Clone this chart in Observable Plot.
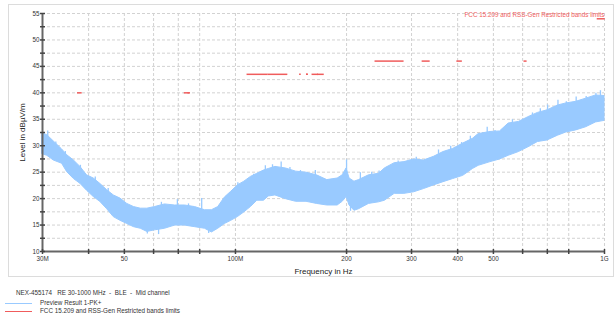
<!DOCTYPE html>
<html><head><meta charset="utf-8">
<script src="https://cdn.jsdelivr.net/npm/d3@7"></script>
<script src="https://cdn.jsdelivr.net/npm/@observablehq/plot@0.6"></script>
<style>
body{margin:0;background:#fff;font-family:"Liberation Sans",Arial,sans-serif;}
#wrap{position:relative;width:616px;height:322px;overflow:hidden;background:#fff;}
#chart{position:absolute;left:0;top:0;}
#frame{position:absolute;left:8px;top:4px;width:604px;height:271px;border:1px solid #dcdcdc;pointer-events:none;}
.cap{position:absolute;font-size:6.3px;color:#333;white-space:pre;line-height:8px;}
.sw{position:absolute;left:5px;width:27px;height:1px;}
</style></head><body>
<div id="wrap">
<div id="chart"></div>
<div id="frame"></div>
<div class="cap" id="cap0" style="left:16px;top:289px"></div>
<div class="sw" id="sw1" style="top:303px"></div>
<div class="cap" id="cap1" style="left:40px;top:299px"></div>
<div class="sw" id="sw2" style="top:311px"></div>
<div class="cap" id="cap2" style="left:40px;top:307px"></div>
</div>
<script>
// ---------- data ----------
const captionText = "NEX-455174   RE 30-1000 MHz  -  BLE  -  Mid channel";
const seriesNames = ["Preview Result 1-PK+", "FCC 15.209 and RSS-Gen Restricted bands limits"];
const xTitle = "Frequency in Hz";
const yTitle = "Level in dBµV/m";

// Preview Result 1-PK+ : envelope of the noisy trace (MHz, dBµV/m)
const specFreq = [30, 30.9, 32.2, 33.9, 35.0, 36.5, 38.0, 39.6, 41.3, 43.0, 44.9, 46.8, 48.8, 50.9, 53.1, 55.4, 57.7, 60.5, 64.4, 68.6, 73.0, 77.7, 82.7, 86.3, 89.8, 93.6, 97.4, 101.5, 105.7, 110.1, 114.6, 119.4, 123.1, 128.3, 136.9, 146.0, 155.8, 166.2, 177.3, 189.2, 195.2, 200, 203.8, 210.1, 216.2, 230, 245, 254, 270, 287, 305, 324, 345, 366, 389, 414, 440, 456, 491, 521, 550, 586, 622, 660, 701, 748, 788, 838, 892, 948, 1000];
const specHigh = [32.3, 32.0, 30.8, 29.3, 28.2, 27.2, 26.0, 24.4, 23.8, 22.8, 21.6, 20.6, 20.0, 19.0, 18.4, 18.1, 18.1, 18.4, 18.9, 18.7, 18.7, 18.4, 17.8, 17.8, 18.4, 20.2, 21.3, 22.5, 23.2, 24.1, 24.7, 25.3, 25.6, 26.0, 25.7, 25.1, 24.9, 24.4, 23.5, 23.8, 24.4, 25.7, 23.8, 23.2, 23.5, 24.4, 24.7, 25.7, 26.7, 26.9, 27.4, 27.2, 27.9, 28.8, 29.4, 30.4, 31.3, 32.2, 32.6, 32.7, 34.2, 34.5, 35.4, 36.2, 36.7, 37.6, 38.0, 38.3, 38.9, 39.5, 39.4];
const specLow = [28.4, 28.1, 27.2, 26.6, 25.0, 23.7, 22.8, 21.5, 20.3, 19.4, 18.0, 16.5, 15.8, 15.2, 14.6, 14.3, 13.7, 14.0, 14.3, 14.9, 14.9, 14.6, 14.3, 13.6, 14.3, 15.2, 15.8, 16.5, 17.4, 18.4, 19.6, 19.6, 20.4, 20.6, 19.9, 19.4, 19.4, 19.0, 18.7, 18.7, 19.4, 20.3, 18.7, 17.7, 18.0, 19.0, 19.3, 19.6, 20.9, 20.9, 21.2, 21.8, 22.5, 23.1, 23.7, 24.3, 25.6, 26.2, 26.9, 27.4, 28.1, 28.8, 29.7, 30.7, 31.0, 31.9, 32.5, 32.9, 33.5, 34.4, 34.7];

// individual peaks and dips sticking out of the trace (MHz, from dB, to dB)
const peakFreq = [31.0, 32.6, 34.6, 38.0, 41.7, 45.2, 57.7, 61.9, 63.0, 69.6, 74.6, 81.0, 84.6, 101.5, 112, 120.5, 126, 133, 140.5, 150, 164.6, 200, 205, 218, 234, 245, 258, 276, 309, 332, 355, 383, 410, 433, 481, 505, 529, 563, 600, 638, 670, 701, 748, 788, 838, 892, 948, 975];
const peakFrom = [31.0, 29.8, 27.8, 25.0, 23.0, 20.8, 14.0, 14.2, 18.2, 18.2, 18.0, 17.6, 14.3, 21.8, 23.5, 24.6, 25.3, 25.4, 25.0, 24.5, 24.0, 25.0, 18.5, 23.2, 24.0, 24.2, 25.3, 26.3, 26.8, 26.8, 27.8, 28.8, 29.8, 30.6, 32.0, 32.2, 32.5, 33.8, 34.4, 35.3, 35.9, 36.2, 37.3, 37.6, 37.9, 38.5, 39.2, 39.2];
const peakTo   = [32.8, 30.7, 28.9, 26.3, 24.1, 21.9, 13.3, 13.2, 19.3, 19.8, 19.0, 20.0, 13.4, 23.0, 24.6, 26.2, 26.4, 26.9, 25.9, 25.3, 25.3, 27.3, 17.6, 24.9, 25.0, 25.2, 26.0, 27.1, 27.8, 27.5, 29.2, 29.9, 30.6, 31.8, 33.5, 32.9, 33.1, 34.9, 35.0, 36.2, 37.0, 37.7, 38.6, 38.3, 39.2, 39.3, 39.9, 40.4];

// FCC 15.209 / RSS-Gen restricted bands (MHz) and limits (dBµV/m)
const bandStart = [37.5, 73, 74.8, 108, 123, 149.9, 156.52475, 156.7, 162.0125, 167.72, 240, 322, 399.9, 608, 960];
const bandEnd   = [38.25, 74.6, 75.2, 121.94, 138, 150.05, 156.52525, 156.9, 167.17, 173.2, 285, 335.4, 410, 614, 1000];
const bandLimit = [40, 40, 40, 43.5, 43.5, 43.5, 43.5, 43.5, 43.5, 43.5, 46, 46, 46, 46, 54];

// axes
const xDomain = [30, 1000];
const yDomain = [10, 55];
const xGrid = [40, 50, 60, 70, 80, 100, 200, 300, 400, 500, 600, 700, 800, 1000];
const xTickMarks = [30, 40, 50, 60, 70, 80, 100, 200, 300, 400, 500, 600, 700, 800, 1000];
const xLabelVals = [30, 50, 60, 80, 100, 200, 300, 400, 500, 800, 1000];
const xLabelText = ["30M", "50", "60", "80", "100M", "200", "300", "400", "500", "800", "1G"];
const yGrid = [12.5, 15, 17.5, 20, 22.5, 25, 27.5, 30, 32.5, 35, 37.5, 40, 42.5, 45, 47.5, 50, 52.5, 55];
const yTickMarks = [10, 12.5, 15, 17.5, 20, 22.5, 25, 27.5, 30, 32.5, 35, 37.5, 40, 42.5, 45, 47.5, 50, 52.5, 55];
const yLabelVals = [10, 15, 20, 25, 30, 35, 40, 45, 50, 55];

// ---------- build ----------
const blue = "#99caff", red = "#f05c5c", axisCol = "#666";
const spectrum = specFreq.map((f, i) => ({f, lo: specLow[i], hi: specHigh[i]}));
const peaks = peakFreq.map((f, i) => ({f, from: peakFrom[i], to: peakTo[i]}));
const bands = bandStart.map((s, i) => ({start: s, end: bandEnd[i], limit: bandLimit[i]}));
const hTick = {draw(c, s) { const r = Math.sqrt(s / Math.PI); c.moveTo(-r, 0); c.lineTo(r, 0); }};
const vTick = {draw(c, s) { const r = Math.sqrt(s / Math.PI); c.moveTo(0, -r); c.lineTo(0, r); }};
const font = '"Liberation Sans", Arial, sans-serif';

const chart = Plot.plot({
  width: 616, height: 282,
  marginLeft: 42, marginRight: 12, marginTop: 13, marginBottom: 31,
  x: {type: "log", domain: xDomain},
  y: {domain: yDomain},
  style: {fontFamily: font, fontSize: "6.3px", color: "#333", background: "transparent"},
  marks: [
    Plot.ruleY(yGrid, {stroke: "#d2d2d2", strokeDasharray: "3,2"}),
    Plot.ruleX(xGrid, {stroke: "#d2d2d2", strokeDasharray: "3,2"}),
    Plot.areaY(spectrum, {x: "f", y1: "lo", y2: "hi", fill: blue, stroke: blue, strokeWidth: 1}),
    Plot.ruleX(peaks, {x: "f", y1: "from", y2: "to", stroke: blue, strokeWidth: 1.3}),
    Plot.ruleY(bands, {x1: "start", x2: "end", y: "limit", stroke: red, strokeWidth: 1.5, strokeLinecap: "square"}),
    Plot.ruleX([xDomain[0]], {stroke: axisCol, strokeWidth: 2}),
    Plot.ruleY([yDomain[0]], {stroke: axisCol, strokeWidth: 2}),
    Plot.dot(yTickMarks, {y: d => d, frameAnchor: "left", symbol: hTick, r: 2.5, stroke: "#444", fill: "none"}),
    Plot.dot(xTickMarks, {x: d => d, frameAnchor: "bottom", symbol: vTick, r: 2.5, stroke: "#444", fill: "none"}),
    Plot.axisY({ticks: yLabelVals, tickSize: 0, tickPadding: 3, label: null, fill: "#333"}),
    Plot.axisX({ticks: xLabelVals, tickFormat: d => xLabelText[xLabelVals.indexOf(d)], tickSize: 0, tickPadding: 5, label: null, fill: "#333"}),
    Plot.text([yTitle], {frameAnchor: "left", rotate: -90, dx: -20, textAnchor: "middle", lineAnchor: "middle", fontSize: 8, fill: "#222"}),
    Plot.text([xTitle], {frameAnchor: "bottom", dy: 20, textAnchor: "middle", lineAnchor: "middle", fontSize: 8, fill: "#222"}),
    Plot.text([seriesNames[1]], {frameAnchor: "top-right", textAnchor: "end", lineAnchor: "middle", dy: 1, fontSize: 6.3, fill: red})
  ]
});
document.getElementById("chart").appendChild(chart);
document.getElementById("cap0").textContent = captionText;
document.getElementById("cap1").textContent = seriesNames[0];
document.getElementById("cap2").textContent = seriesNames[1];
document.getElementById("sw1").style.background = blue;
document.getElementById("sw2").style.background = red;
</script>
</body></html>
